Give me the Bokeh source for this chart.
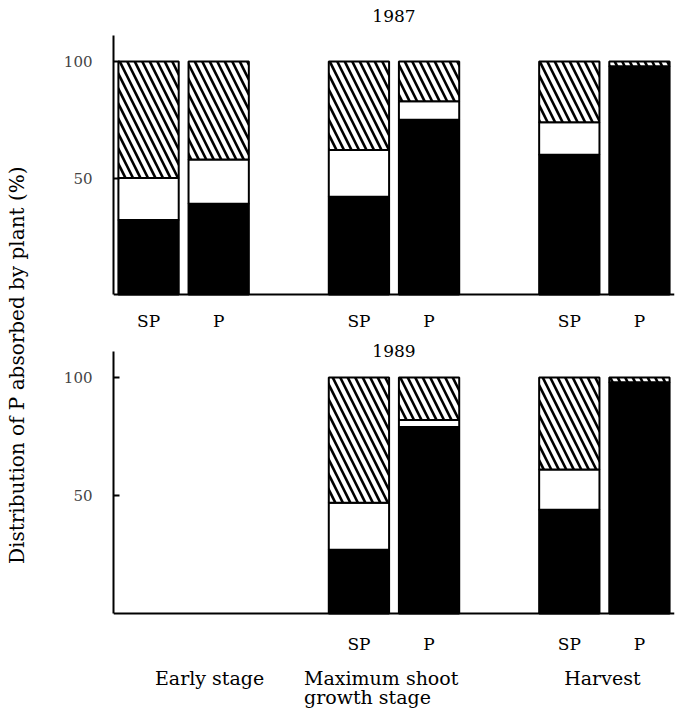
import numpy as np
from bokeh.plotting import figure
from bokeh.layouts import row, column
from bokeh.models import FactorRange, Span, ColumnDataSource, Range1d
from bokeh.core.properties import value
from bokeh.embed import file_html
from bokeh.resources import INLINE

# ---------------- data ----------------
stages = ["Early stage", "Maximum shoot growth stage", "Harvest"]
treatments = ["SP", "P"]
years = ["1987", "1989"]

# percentage of P absorbed by plant: black (bottom), white (middle), hatched (top)
black_1987 = [32, 39, 42, 75, 60, 98]
white_1987 = [18, 19, 20, 8, 14, 0]
hatch_1987 = [50, 42, 38, 17, 26, 2]

black_1989 = [None, None, 27, 79, 44, 98]
white_1989 = [None, None, 20, 3, 17, 0]
hatch_1989 = [None, None, 53, 18, 39, 2]

y_ticks = [50, 100]
y_label = "Distribution of P absorbed by plant (%)"

FONT = "DejaVu Serif"
factors = [(s, t) for s in stages for t in treatments]


def make_panel(year, black, white, hatch, height, y_start, y_end, year_y, sub_y, show_groups):
    p = figure(width=650, height=height,
               x_range=FactorRange(*factors, factor_padding=0.0, group_padding=1.0, range_padding=0.0),
               y_range=Range1d(y_start, y_end), output_backend="svg", toolbar_location=None,
               x_axis_location=None, min_border_left=81, min_border_right=8,
               min_border_top=0, min_border_bottom=0)
    p.outline_line_color = None
    p.xgrid.visible = False
    p.ygrid.visible = False

    xs, b0, b1, w1, h1 = [], [], [], [], []
    for f, bk, wt, ht in zip(factors, black, white, hatch):
        if bk is None:
            continue
        xs.append(f)
        b0.append(0)
        b1.append(bk)
        w1.append(bk + wt)
        h1.append(bk + wt + ht)
    src = ColumnDataSource(dict(x=xs, b0=b0, b1=b1, w1=w1, h1=h1))
    bw = 0.86
    p.vbar(x="x", width=bw, bottom="b0", top="b1", source=src,
           fill_color="black", line_color="black", line_width=2)
    p.vbar(x="x", width=bw, bottom="b1", top="w1", source=src,
           fill_color="white", line_color="black", line_width=2)
    p.vbar(x="x", width=bw, bottom="w1", top="h1", source=src,
           fill_color="white", line_color="black", line_width=2,
           hatch_pattern="\\", hatch_color="black", hatch_weight=2.6, hatch_scale=15)

    p.add_layout(Span(location=0, dimension="width", line_color="black", line_width=2))

    ax = p.yaxis[0]
    ax.ticker = y_ticks
    ax.bounds = (0, 111)
    ax.axis_line_width = 2
    ax.major_tick_line_width = 2
    ax.major_tick_in = 6
    ax.major_tick_out = 0
    ax.minor_tick_line_color = None
    ax.major_label_standoff = 21
    ax.major_label_text_font = FONT
    ax.major_label_text_font_size = "15px"

    # year label
    p.text(x=["Maximum shoot growth stage"], y=[year_y], text=[year],
           text_font=value(FONT), text_font_size="17px",
           text_align="center", text_baseline="middle")

    # treatment labels
    lx = [f for f, bk in zip(factors, black) if bk is not None]
    p.text(x=lx, y=[sub_y] * len(lx), text=[f[1] for f in lx],
           text_font=value(FONT), text_font_size="17px",
           text_align="center", text_baseline="middle")

    if show_groups:
        p.text(x=["Early stage"], y=[-27.5], text=["Early  stage"], x_offset=29,
               text_font=value(FONT), text_font_size="19px",
               text_align="center", text_baseline="middle")
        p.text(x=["Maximum shoot growth stage"] * 2, y=[-27.5, -35.2], x_offset=-90,
               text=["Maximum  shoot", "growth  stage"],
               text_font=value(FONT), text_font_size="19px",
               text_align="left", text_baseline="middle")
        p.text(x=["Harvest"], y=[-27.5], text=["Harvest"], x_offset=-2,
               text_font=value(FONT), text_font_size="19px",
               text_align="center", text_baseline="middle")
    return p


top = make_panel(years[0], black_1987, white_1987, hatch_1987, 340, -19.7, 126.2, 119.7, -11.5, False)
bottom = make_panel(years[1], black_1989, white_1989, hatch_1989, 371, -41.5, 115.7, 111.4, -13.0, True)

lab = figure(width=32, height=711, x_range=Range1d(0, 1), y_range=Range1d(0, 1),
             output_backend="svg", toolbar_location=None, x_axis_location=None,
             y_axis_location=None, min_border=0)
lab.outline_line_color = None
lab.xgrid.visible = False
lab.ygrid.visible = False
lab.text(x=[0.5], y=[0.487], text=[y_label], angle=np.pi / 2,
         text_font=value(FONT), text_font_size="20px",
         text_align="center", text_baseline="middle")

layout = row(lab, column(top, bottom))
open("out.html", "w").write(file_html(layout, INLINE))
